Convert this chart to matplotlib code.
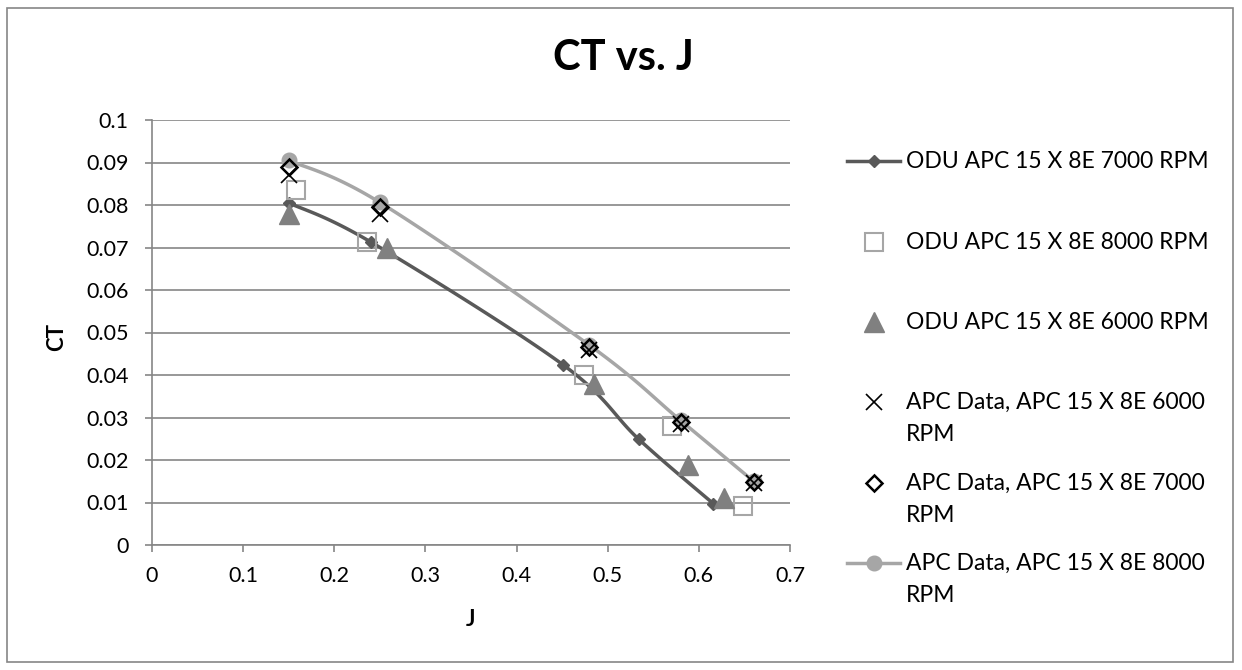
import matplotlib
matplotlib.use('Agg')
import matplotlib.pyplot as plt
from matplotlib.lines import Line2D
from matplotlib.patches import Rectangle
import numpy as np

plt.rcParams['font.family'] = ['Lato', 'DejaVu Sans']

# valores
j_odu_7000 = [0.15, 0.24, 0.451, 0.534, 0.616]
ct_odu_7000 = [0.0805, 0.0713, 0.0424, 0.0249, 0.0097]

j_odu_8000 = [0.158, 0.236, 0.474, 0.571, 0.648]
ct_odu_8000 = [0.0836, 0.0712, 0.0400, 0.0280, 0.0092]

j_odu_6000 = [0.15, 0.258, 0.485, 0.588, 0.628]
ct_odu_6000 = [0.0780, 0.0700, 0.0380, 0.0188, 0.0110]

j_apc = [0.15, 0.25, 0.48, 0.58, 0.66]
ct_apc_6000 = [0.0870, 0.0780, 0.0458, 0.0285, 0.0146]
ct_apc_7000 = [0.0890, 0.0795, 0.0466, 0.0290, 0.0148]
ct_apc_8000 = [0.0905, 0.0806, 0.0470, 0.0293, 0.0150]

labels = ['ODU APC 15 X 8E 7000 RPM',
          'ODU APC 15 X 8E 8000 RPM',
          'ODU APC 15 X 8E 6000 RPM',
          'APC Data, APC 15 X 8E 6000\nRPM',
          'APC Data, APC 15 X 8E 7000\nRPM',
          'APC Data, APC 15 X 8E 8000\nRPM']

cinza_escuro = '#595959'
cinza_medio = '#808080'
cinza_claro = '#a6a6a6'


def linha_suave(x, y, n=30):
    # curva tipo "linha suavizada" do Excel (Bezier com pontos de controle Catmull-Rom)
    pts = np.column_stack([np.asarray(x, float), np.asarray(y, float)])
    ext = np.vstack([pts[0], pts, pts[-1]])
    saida = []
    t = np.linspace(0, 1, n)[:, None]
    for i in range(1, len(ext) - 2):
        p0, p1, p2, p3 = ext[i - 1], ext[i], ext[i + 1], ext[i + 2]
        c1 = p1 + (p2 - p0) / 6
        c2 = p2 - (p3 - p1) / 6
        seg = ((1 - t) ** 3) * p1 + 3 * ((1 - t) ** 2) * t * c1 + 3 * (1 - t) * t ** 2 * c2 + t ** 3 * p2
        saida.append(seg)
    saida = np.vstack(saida)
    return saida[:, 0], saida[:, 1]


# estilos dos marcadores (usados no gráfico e na legenda)
estilos = [
    dict(marker='D', ms=5.8, color=cinza_escuro),
    dict(marker='s', ms=13.5, mfc='none', mec=cinza_claro, mew=1.5),
    dict(marker='^', ms=14, color=cinza_medio),
    dict(marker='x', ms=12, mew=1.2, color='black'),
    dict(marker='D', ms=8.5, mfc='none', mec='black', mew=1.8),
    dict(marker='o', ms=10.5, color=cinza_claro),
]

fig = plt.figure(figsize=(12.42, 6.70), dpi=100)
ax = fig.add_axes([152 / 1242, 125 / 670, 638 / 1242, 425 / 670])

# linhas suavizadas
xs, ys = linha_suave(j_odu_7000, ct_odu_7000)
ax.plot(xs, ys, color=cinza_escuro, lw=2.5, zorder=3, solid_capstyle='round')
xs, ys = linha_suave(j_apc, ct_apc_8000)
ax.plot(xs, ys, color=cinza_claro, lw=2.5, zorder=3, solid_capstyle='round')

# marcadores
ax.plot(j_odu_7000, ct_odu_7000, ls='none', zorder=4, **estilos[0])
ax.plot(j_odu_8000, ct_odu_8000, ls='none', zorder=4, **estilos[1])
ax.plot(j_odu_6000, ct_odu_6000, ls='none', zorder=4, **estilos[2])
ax.plot(j_apc, ct_apc_8000, ls='none', zorder=5, **estilos[5])
ax.plot(j_apc, ct_apc_6000, ls='none', zorder=6, **estilos[3])
ax.plot(j_apc, ct_apc_7000, ls='none', zorder=7, **estilos[4])

ax.set_xlim(0, 0.7)
ax.set_ylim(0, 0.1)
ax.set_xticks(np.arange(0, 0.71, 0.1))
ax.set_yticks(np.arange(0, 0.101, 0.01))
ax.set_xticklabels(['0', '0.1', '0.2', '0.3', '0.4', '0.5', '0.6', '0.7'])
ax.set_yticklabels(['0', '0.01', '0.02', '0.03', '0.04', '0.05', '0.06', '0.07', '0.08', '0.09', '0.1'])
ax.tick_params(axis='both', labelsize=15.5, color='#868686', length=5, width=1.2, direction='out')
ax.tick_params(axis='y', pad=12)
ax.tick_params(axis='x', pad=10)
ax.yaxis.grid(True, color='#868686', lw=1.2)
ax.set_axisbelow(True)
for lado in ['top', 'right']:
    ax.spines[lado].set_visible(False)
for lado in ['left', 'bottom']:
    ax.spines[lado].set_color('#868686')
    ax.spines[lado].set_linewidth(1.2)

ax.set_xlabel('J', fontsize=16, fontweight='bold', va='center')
ax.xaxis.set_label_coords(0.5, -(619 - 545) / 425)
ax.set_ylabel('CT', fontsize=16, fontweight='bold', va='center', ha='center')
ax.yaxis.set_label_coords(-(152 - 57) / 638, 0.49)
fig.text(623 / 1242, 1 - 58 / 670, 'CT vs. J', fontsize=30, fontweight='bold', ha='center', va='center')

# legenda desenhada manualmente (marcador alinhado à primeira linha do texto)
y_leg = [161, 242, 322, 402, 483, 563]
com_linha = [True, False, False, False, False, True]
for estilo, lab, yp, tem_linha in zip(estilos, labels, y_leg, com_linha):
    yf = 1 - yp / 670
    fig.add_artist(Line2D([847 / 1242, 874 / 1242, 900 / 1242], [yf, yf, yf],
                          transform=fig.transFigure, markevery=[1],
                          ls='-' if tem_linha else 'none', lw=2.5, **estilo))
    fig.text(906 / 1242, 1 - (yp - 10) / 670, lab, fontsize=16.5, ha='left', va='top',
             linespacing=1.65)

fig.add_artist(Rectangle((7 / 1242, 8 / 670), 1226 / 1242, 654 / 670, transform=fig.transFigure,
                         fill=False, edgecolor='#868686', lw=1.2))

fig.savefig('out.png', dpi=100)
